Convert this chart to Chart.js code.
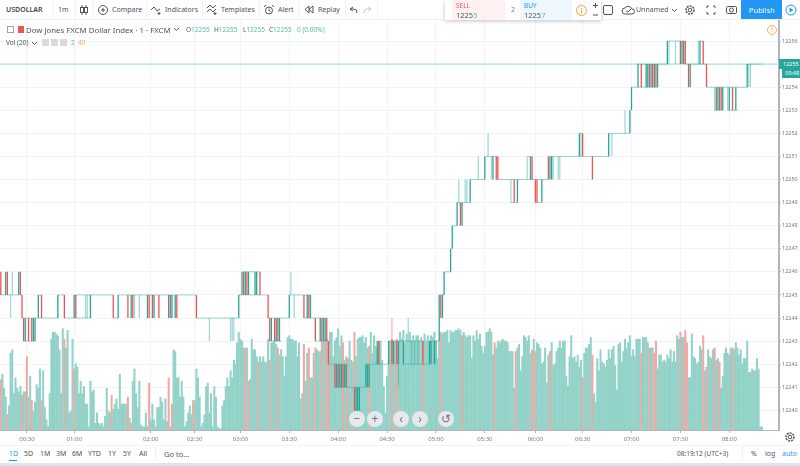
<!DOCTYPE html>
<html>
<head>
<meta charset="utf-8">
<title>USDOLLAR</title>
<script src="https://cdn.jsdelivr.net/npm/chart.js@4"></script>
<style>
html,body{margin:0;padding:0;background:#fff;overflow:hidden}
body{width:800px;height:466px;position:relative;font-family:"Noto Sans",sans-serif;font-size:7px;color:#50535e}
#chart{position:absolute;left:0;top:20px}
.t{position:absolute;white-space:nowrap;line-height:10px}
.sep{position:absolute;top:0;width:1px;height:20px;background:#f0f3fa}
.box{position:absolute}
svg{position:absolute;overflow:visible}
.nav{position:absolute;top:411px;width:16px;height:16px;border-radius:50%;background:#e6e8ec;color:#6f7480;text-align:center;line-height:15px;font-size:12px}
.up{color:#53b9a9}
.legend{font-size:6.5px}
</style>
</head>
<body>
<canvas id="chart" width="800" height="425"></canvas>

<!-- top toolbar -->
<div class="box" style="left:0;top:0;width:800px;height:20px;border-bottom:1px solid #eef0f5;box-sizing:border-box;background:#fff"></div>
<div class="sep" style="left:53px"></div><div class="sep" style="left:75px"></div><div class="sep" style="left:93px"></div>
<div class="sep" style="left:146px"></div><div class="sep" style="left:202px"></div><div class="sep" style="left:259px"></div>
<div class="sep" style="left:298px"></div><div class="sep" style="left:345px"></div><div class="sep" style="left:377px"></div>
<div class="t" style="left:6px;top:5px;font-weight:600;color:#3f424c">USDOLLAR</div>
<div class="t" style="left:58px;top:5px">1m</div>
<svg style="left:80px;top:5px" width="8" height="10"><path d="M2 0v10M6 0v10" stroke="#50535e"/><rect x=".5" y="2.5" width="3" height="5" fill="#fff" stroke="#50535e"/><rect x="4.500" y="2.5" width="3" height="5" fill="#fff" stroke="#50535e"/></svg>
<svg style="left:98px;top:5px" width="10" height="10"><circle cx="5" cy="5" r="4.500" fill="none" stroke="#50535e"/><path d="M3 5h4M5 3v4" stroke="#50535e"/></svg>
<div class="t" style="left:112px;top:5px">Compare</div>
<svg style="left:151px;top:5px" width="10" height="10"><path d="M0 5l3-3 3 4 3-2M8 7v3M6.500 8.500h3" fill="none" stroke="#50535e"/></svg>
<div class="t" style="left:165px;top:5px">Indicators</div>
<svg style="left:207px;top:5px" width="10" height="10"><path d="M0 3l3-3 3 3 3-3M0 7l3-3 3 3 3-3M8 7v3M6.500 8.500h3" fill="none" stroke="#50535e"/></svg>
<div class="t" style="left:221px;top:5px">Templates</div>
<svg style="left:264px;top:5px" width="10" height="10"><circle cx="5" cy="5.500" r="3.500" fill="none" stroke="#50535e"/><path d="M5 3.500v2l1.500 1M0 2l2-2M10 2L8 0" fill="none" stroke="#50535e"/></svg>
<div class="t" style="left:278px;top:5px">Alert</div>
<svg style="left:305px;top:6px" width="8" height="7"><path d="M4 0L0 3.500l4 3.500zM8 0L4 3.500l4 3.500z" fill="none" stroke="#50535e"/></svg>
<div class="t" style="left:318px;top:5px">Replay</div>
<svg style="left:350px;top:7px" width="7" height="6"><path d="M3 0L0 2l3 2M0 2h4q3 0 3 4" fill="none" stroke="#50535e"/></svg>
<svg style="left:364px;top:7px" width="7" height="6"><path d="M4 0l3 2-3 2M7 2H3q-3 0-3 4" fill="none" stroke="#c8cad0"/></svg>

<!-- sell / buy panel -->
<div class="box" style="left:445px;top:0;width:156px;height:20px;background:#fff;box-shadow:0 1px 4px rgba(0,0,0,.25)"></div>
<div class="box" style="left:452px;top:0;width:53px;height:20px;background:#fff1f1"></div>
<div class="box" style="left:520px;top:0;width:52px;height:20px;background:#eef6fe"></div>
<div class="t" style="left:456px;top:1px;color:#ef5350;font-size:6.5px">SELL</div>
<div class="t" style="left:456px;top:10px;font-size:7.5px">1225<span class="up">5</span></div>
<div class="t" style="left:511px;top:5px;color:#787b86">2</div>
<div class="t" style="left:524px;top:1px;color:#2196f3;font-size:6.5px">BUY</div>
<div class="t" style="left:524px;top:10px;font-size:7.5px">1225<span class="up">7</span></div>
<svg style="left:576px;top:5px" width="11" height="11"><circle cx="5.5" cy="5.5" r="5" fill="none" stroke="#ff9a3c"/><path d="M5.5 3v1M5.5 5v3.5" stroke="#ff9a3c"/></svg>
<svg style="left:593px;top:3px" width="7" height="14"><path d="M0 2.5h5M2.500 0v5M0 12h5" stroke="#50535e"/></svg>
<div class="box" style="left:603px;top:5px;width:8px;height:8px;border:1px solid #50535e;border-radius:2px"></div>
<svg style="left:622px;top:5px" width="12" height="10"><path d="M3 9a3 3 0 0 1 0-6 4 4 0 0 1 7 1 2.500 2.500 0 0 1 0 5zM4 6l2 1 3-3" fill="none" stroke="#50535e"/></svg>
<div class="t" style="left:636px;top:5px">Unnamed</div>
<svg style="left:672px;top:9px" width="5" height="3"><path d="M0 0l2.500 2.500L5 0" fill="none" stroke="#50535e"/></svg>
<svg style="left:685px;top:5px" width="10" height="10"><circle cx="5" cy="5" r="1.800" fill="none" stroke="#50535e"/><circle cx="5" cy="5" r="4" fill="none" stroke="#50535e" stroke-width="1.500" stroke-dasharray="2 1"/></svg>
<svg style="left:707px;top:6px" width="8" height="8"><path d="M0 2V0h2M6 0h2v2M0 6v2h2M6 8h2V6" fill="none" stroke="#50535e"/></svg>
<svg style="left:726px;top:5px" width="11" height="9"><rect x=".5" y="1.500" width="10" height="7" rx="1" fill="none" stroke="#50535e"/><circle cx="5.500" cy="5" r="2" fill="none" stroke="#50535e"/></svg>
<div class="box" style="left:741px;top:0;width:41px;height:19px;background:#2196f3"></div>
<div class="t" style="left:749px;top:5px;color:#fff;font-size:7.5px">Publish</div>
<svg style="left:785px;top:4px" width="12" height="12"><circle cx="6" cy="6" r="5" fill="none" stroke="#2196f3"/><path d="M4.500 3.500l4 2.500-4 2.500z" fill="#2196f3"/></svg>

<!-- study legend -->
<div class="box" style="left:7px;top:26px;width:5px;height:5px;border:1px solid #a0a3ad"></div>
<div class="box" style="left:18px;top:26px;width:6px;height:7px;background:#ef5350"></div>
<div class="t" style="left:26px;top:25px;font-size:7.8px">Dow Jones FXCM Dollar Index · 1 · FXCM</div>
<svg style="left:174px;top:28px" width="5" height="3"><path d="M0 0l2.500 2.500L5 0" fill="none" stroke="#50535e"/></svg>
<div class="t legend" style="left:186px;top:25px">O<span class="up">12255</span></div>
<div class="t legend" style="left:214px;top:25px">H<span class="up">12255</span></div>
<div class="t legend" style="left:243px;top:25px">L<span class="up">12255</span></div>
<div class="t legend" style="left:269px;top:25px">C<span class="up">12255</span></div>
<div class="t up legend" style="left:297px;top:25px">0 (0.00%)</div>
<div class="t legend" style="left:6px;top:38px">Vol (20)</div>
<svg style="left:32px;top:42px" width="5" height="3"><path d="M0 0l2.500 2.500L5 0" fill="none" stroke="#50535e"/></svg>
<div class="box" style="left:42px;top:39px;width:7px;height:7px;background:#d8dae0"></div>
<div class="box" style="left:51px;top:39px;width:7px;height:7px;background:#d8dae0"></div>
<div class="box" style="left:60px;top:39px;width:7px;height:7px;background:#d8dae0"></div>
<div class="t up legend" style="left:71px;top:38px">2</div>
<div class="t legend" style="left:78px;top:38px;color:#ffa95c">40</div>
<svg style="left:767px;top:25px" width="10" height="10"><circle cx="5" cy="5" r="4.500" fill="#fff" stroke="#ffa95c"/><path d="M5 2v3.500M5 6.500v1" stroke="#ffa95c"/></svg>

<!-- last price tags -->
<div class="box" style="left:779px;top:59px;width:21px;height:10px;background:#26a69a"></div>
<div class="t" style="left:783px;top:59px;color:#fff;font-size:5.5px">12255</div>
<div class="box" style="left:782px;top:69px;width:18px;height:9px;background:#26a69a"></div>
<div class="t" style="left:785px;top:68px;color:#fff;font-size:5.5px">00:48</div>

<!-- zoom / scroll buttons -->
<div class="nav" style="left:349px">−</div>
<div class="nav" style="left:367px">+</div>
<div class="nav" style="left:393px">‹</div>
<div class="nav" style="left:412px">›</div>
<div class="nav" style="left:438px">↺</div>

<!-- bottom bar -->
<div class="box" style="left:0;top:445px;width:800px;height:1px;background:#f0f3fa"></div>
<div class="t" style="left:9px;top:449px;color:#2196f3">1D</div>
<div class="box" style="left:9px;top:460px;width:8px;height:1px;background:#2196f3"></div>
<div class="t" style="left:24px;top:449px">5D</div>
<div class="t" style="left:40px;top:449px">1M</div>
<div class="t" style="left:56px;top:449px">3M</div>
<div class="t" style="left:72px;top:449px">6M</div>
<div class="t" style="left:88px;top:449px">YTD</div>
<div class="t" style="left:108px;top:449px">1Y</div>
<div class="t" style="left:123px;top:449px">5Y</div>
<div class="t" style="left:139px;top:449px">All</div>
<div class="box" style="left:155px;top:447px;width:1px;height:14px;background:#eef0f5"></div>
<div class="t" style="left:164px;top:449px;font-size:7.5px">Go to…</div>
<div class="t" style="left:677px;top:449px;font-size:6.5px">08:19:12 (UTC+3)</div>
<div class="box" style="left:742px;top:447px;width:1px;height:14px;background:#eef0f5"></div>
<div class="t" style="left:751px;top:449px">%</div>
<div class="t" style="left:765px;top:449px">log</div>
<div class="t" style="left:782px;top:449px;color:#2196f3">auto</div>
<svg style="left:785px;top:432px" width="10" height="10"><circle cx="5" cy="5" r="1.800" fill="none" stroke="#50535e"/><circle cx="5" cy="5" r="4" fill="none" stroke="#50535e" stroke-width="1.500" stroke-dasharray="2 1"/></svg>
<div class="box" style="left:0;top:463px;width:800px;height:3px;background:#e0e3eb"></div>

<script>
// one slot per minute bar, the chart leaves some empty slots on the right
const totalBars = 478
const tickBars = [16, 45, 92, 119, 147, 177, 207, 237, 267, 297, 328, 357, 387, 417, 447]
const tickLabels = ['00:30', '01:00', '02:00', '02:30', '03:00', '03:30', '04:00', '04:30', '05:00', '05:30', '06:00', '06:30', '07:00', '07:30', '08:00']
const lastPrice = 12255

const volumes = [
  29,32,24,19,9,14,44,46,21,30,
  24,22,25,20,22,22,42,19,31,17,
  11,16,26,24,35,17,34,13,6,2,
  21,52,56,56,55,54,46,21,58,52,
  47,57,10,11,52,35,38,36,21,28,
  21,25,15,15,2,28,22,23,4,10,
  4,3,4,2,8,24,11,10,20,12,
  15,18,12,32,15,15,15,15,19,7,
  4,28,35,21,13,28,3,2,2,10,
  2,27,6,15,6,2,13,13,19,16,
  6,18,5,30,2,15,46,45,30,30,
  19,28,19,2,5,10,14,9,17,17,
  35,30,19,2,4,9,25,27,10,21,
  2,25,19,2,1,1,14,17,25,30,
  25,34,30,40,38,50,56,52,51,47,
  47,47,28,29,52,46,46,42,39,42,
  39,42,39,39,52,40,50,50,51,49,
  47,43,46,42,31,42,53,54,52,52,
  51,51,42,50,18,21,49,28,44,47,
  30,30,44,47,46,45,45,51,51,51,
  52,51,56,56,42,51,53,58,48,54,
  50,40,42,41,51,40,39,56,42,52,
  53,53,54,50,53,47,48,56,44,54,
  48,47,51,51,40,25,10,31,40,51,
  52,51,51,52,51,56,52,57,50,55,
  51,56,51,54,51,54,54,51,53,51,
  55,51,54,51,54,53,56,51,41,51,
  56,55,56,56,57,50,57,56,56,57,
  57,58,57,54,56,54,53,54,54,41,
  54,51,57,52,55,48,44,48,56,56,
  58,56,43,50,47,51,50,51,52,51,
  51,50,45,45,45,24,45,47,49,34,
  42,54,53,51,54,44,46,52,45,50,
  49,47,38,39,47,27,43,45,50,37,
  38,45,47,51,47,51,51,31,25,42,
  54,41,42,39,43,36,40,30,44,47,
  47,49,53,43,21,16,41,34,46,39,
  38,36,40,46,41,46,48,37,23,49,
  50,39,45,52,47,50,54,42,46,42,
  52,52,52,44,53,53,53,50,47,47,
  47,44,51,35,43,43,39,40,39,43,
  41,46,39,45,39,54,52,56,53,53,
  57,50,30,30,55,42,41,38,39,48,
  46,54,34,36,46,42,41,46,47,40,
  41,39,24,31,44,47,44,43,47,47,
  46,50,47,43,46,38,41,41,51,33,
  33,35,34,34,41,35,2,2
]
// bars whose volume is drawn red
const downVolumeBars = [0,4,13,16,19,25,39,45,68,78,80,91,103,105,118,150,152,158,165,170,186,189,193,197,200,201,210,213,217,226,240,243,259,270,283,303,316,326,328,337,357,363,393,398,401,402,417,420,421,431,433,438,441,449]

// flat stretches of price: [price, first bar, last bar]
const priceRuns = [
  [12245,0,13],[12243,14,21],[12244,13,25],[12245,23,25],[12244,25,35],[12245,35,39],[12244,39,55],[12245,45,55],
  [12245,55,69],[12244,69,72],[12245,72,120],[12244,120,146],[12245,146,159],[12246,148,159],[12245,159,164],
  [12244,164,177],[12243,164,172],[12245,177,190],[12244,186,200],[12243,193,201],[12242,201,213],[12241,205,224],
  [12240,217,221],[12242,224,238],[12243,238,259],[12242,247,263],[12243,263,269],[12245,269,272],[12246,272,276],
  [12248,277,280],[12249,280,288],[12250,288,297],[12251,297,305],[12250,304,336],[12249,313,317],[12251,323,326],
  [12249,328,332],[12251,336,373],[12252,355,357],[12252,373,386],[12254,387,391],[12255,391,409],[12254,391,403],
  [12256,409,420],[12255,420,433],[12256,428,431],[12254,433,458],[12253,438,443],[12253,446,452],[12255,458,467]
]
// full candle bodies: [bar, open, close]
const candleBars = [
  [0,12246,12245],[3,12245,12246],[4,12246,12245],[11,12245,12246],[12,12246,12245],[13,12245,12244],[14,12244,12243],[15,12243,12244],
  [17,12244,12243],[19,12244,12243],[20,12243,12244],[21,12243,12244],[23,12244,12245],[25,12245,12244],[35,12244,12245],[39,12245,12244],
  [45,12244,12245],[46,12245,12244],[55,12244,12245],[69,12245,12244],[72,12244,12245],[78,12245,12244],[80,12244,12245],[81,12245,12244],
  [90,12244,12245],[91,12245,12244],[93,12245,12244],[94,12244,12245],[97,12245,12244],[103,12244,12245],[104,12245,12244],[105,12244,12245],
  [107,12244,12245],[108,12245,12244],[120,12245,12244],[146,12244,12245],[148,12245,12246],[149,12246,12245],[150,12245,12246],[151,12246,12245],
  [152,12245,12246],[156,12245,12246],[157,12245,12246],[159,12246,12245],[164,12245,12244],[165,12244,12243],[166,12243,12244],[168,12244,12243],
  [169,12243,12244],[170,12244,12243],[171,12243,12244],[177,12244,12245],[186,12245,12244],[188,12244,12245],[189,12245,12244],[190,12244,12245],
  [193,12244,12243],[196,12243,12244],[197,12244,12243],[198,12243,12244],[199,12243,12244],[200,12244,12243],[201,12243,12242],[205,12242,12241],
  [206,12241,12242],[207,12242,12241],[208,12241,12242],[209,12241,12242],[210,12242,12241],[211,12241,12242],[212,12241,12242],[217,12241,12240],
  [218,12240,12241],[219,12240,12241],[220,12240,12241],[224,12241,12242],[225,12241,12242],[226,12241,12242],[231,12242,12243],[232,12243,12242],
  [238,12242,12243],[240,12243,12242],[241,12242,12243],[243,12243,12242],[244,12242,12243],[247,12242,12243],[259,12243,12242],[263,12242,12243],
  [264,12242,12243],[266,12242,12243],[269,12243,12245],[270,12245,12244],[271,12244,12245],[272,12245,12246],[276,12246,12247],[277,12247,12248],
  [280,12248,12249],[282,12249,12248],[283,12248,12249],[288,12249,12250],[297,12250,12251],[302,12250,12251],[304,12251,12250],[305,12251,12250],
  [315,12250,12249],[317,12249,12250],[325,12250,12251],[326,12251,12250],[328,12250,12249],[329,12250,12249],[332,12249,12250],[336,12251,12250],
  [337,12250,12251],[338,12250,12251],[355,12251,12252],[357,12252,12251],[363,12251,12250],[373,12251,12252],[386,12252,12253],[387,12253,12254],
  [391,12254,12255],[393,12255,12254],[396,12254,12255],[397,12254,12255],[398,12255,12254],[399,12254,12255],[400,12255,12254],[401,12254,12255],
  [402,12255,12254],[403,12254,12255],[409,12255,12256],[417,12255,12256],[418,12256,12255],[419,12255,12256],[420,12256,12255],[422,12255,12254],
  [423,12254,12255],[429,12255,12256],[431,12256,12255],[433,12255,12254],[439,12253,12254],[440,12254,12253],[441,12253,12254],[442,12254,12253],
  [443,12253,12254],[447,12253,12254],[449,12254,12253],[451,12253,12254],[458,12254,12255]
]
// thin shadows of the flat bars: [bar, low, high]
const wickBars = [
  [6,12244,12245],[7,12245,12246],[52,12244,12245],[53,12244,12245],[82,12244,12245],[85,12244,12245],[128,12243,12244],[141,12243,12244],
  [142,12243,12244],[143,12243,12244],[178,12245,12246],[180,12244,12245],[250,12243,12244],[244,12241,12242],[252,12242,12243],[254,12242,12243],
  [256,12242,12243],[267,12242,12243],[281,12249,12250],[285,12249,12250],[286,12249,12250],[293,12250,12251],[299,12251,12252],[301,12250,12251],
  [313,12249,12250],[323,12250,12251],[339,12250,12251],[342,12250,12251],[343,12250,12251],[356,12251,12252],[375,12251,12252],[383,12252,12253],
  [410,12255,12256],[414,12255,12256],[428,12255,12256],[438,12253,12254],[446,12253,12254],[459,12254,12255],[460,12254,12255]
]
const downWickBars = [[240,12243,12244]]

const upColor = '#26a69a'
const downColor = '#ef5350'
const wickColor = 'rgba(38,166,154,0.42)'
const gridColor = '#f0f3fa'
const axisColor = '#b2b5be'

let categories = []
for (let i = 0; i < totalBars; i++) categories.push('')
tickBars.forEach((bar, i) => { categories[bar] = tickLabels[i] })

function emptyBars() {
  return categories.map(() => null)
}

let bodyData = emptyBars()
let bodyColors = emptyBars()
candleBars.forEach(c => {
  bodyData[c[0]] = [Math.min(c[1], c[2]), Math.max(c[1], c[2])]
  bodyColors[c[0]] = c[2] >= c[1] ? upColor : downColor
})

let shadowData = emptyBars()
let shadowColors = emptyBars()
wickBars.forEach(w => {
  shadowData[w[0]] = [w[1], w[2]]
  shadowColors[w[0]] = wickColor
})
downWickBars.forEach(w => {
  shadowData[w[0]] = [w[1], w[2]]
  shadowColors[w[0]] = 'rgba(239,83,80,0.42)'
})

// a null y breaks the line between two flat stretches
let runPoints = []
priceRuns.forEach(r => {
  runPoints.push({ x: r[1], y: r[0] }, { x: r[2], y: r[0] }, { x: r[2], y: null })
})

new Chart(document.getElementById('chart'), {
  data: {
    labels: categories,
    datasets: [
      {
        type: 'bar', data: bodyData, backgroundColor: bodyColors, order: 1, grouped: false,
        categoryPercentage: 1, barPercentage: 0.8, xAxisID: 'x', yAxisID: 'y'
      },
      {
        type: 'bar', data: shadowData, backgroundColor: shadowColors, order: 2, grouped: false,
        categoryPercentage: 1, barPercentage: 0.8, xAxisID: 'x', yAxisID: 'y'
      },
      {
        type: 'line', data: runPoints, borderColor: 'rgba(38,166,154,0.45)', borderWidth: 1, pointRadius: 0,
        spanGaps: false, order: 3, xAxisID: 'bars', yAxisID: 'y'
      },
      {
        type: 'line', data: [{ x: -0.5, y: lastPrice }, { x: totalBars - 0.5, y: lastPrice }],
        borderColor: '#9ddad2', borderWidth: 1, pointRadius: 0, order: 4, xAxisID: 'bars', yAxisID: 'y'
      },
      {
        type: 'bar', data: volumes,
        backgroundColor: volumes.map((v, i) => downVolumeBars.includes(i) ? '#f8a5a0' : '#92d2c8'),
        order: 5, grouped: false, categoryPercentage: 1, barPercentage: 1.25, xAxisID: 'x', yAxisID: 'vol'
      }
    ]
  },
  options: {
    responsive: false,
    animation: false,
    layout: { padding: 0 },
    plugins: { legend: { display: false }, tooltip: { enabled: false } },
    scales: {
      x: {
        type: 'category',
        offset: true,
        grid: {
          offset: false,
          color: c => categories[c.index] ? gridColor : 'transparent',
          tickColor: c => categories[c.index] ? axisColor : 'transparent',
          tickLength: 3
        },
        border: { color: axisColor, width: 1 },
        ticks: {
          autoSkip: false, maxRotation: 0, minRotation: 0, padding: 3,
          color: '#787b86', font: { family: 'Noto Sans', size: 6 },
          callback: (v, i) => categories[i]
        },
        afterFit: scale => { scale.height = 15; scale.paddingLeft = 0; scale.paddingRight = 0 }
      },
      bars: { type: 'linear', display: false, min: -0.5, max: totalBars - 0.5 },
      y: {
        position: 'right',
        min: 12239.15,
        max: 12256.91,
        grid: { color: gridColor, tickColor: axisColor, tickLength: 2 },
        border: { color: axisColor, width: 2 },
        ticks: {
          stepSize: 1, includeBounds: false, padding: 1,
          color: '#787b86', font: { family: 'Noto Sans', size: 5.5 },
          callback: v => String(v)
        },
        afterFit: scale => { scale.width = 21; scale.paddingTop = 0; scale.paddingBottom = 0 }
      },
      vol: { type: 'linear', display: false, min: 0, max: 234 }
    }
  }
})
</script>
</body>
</html>
